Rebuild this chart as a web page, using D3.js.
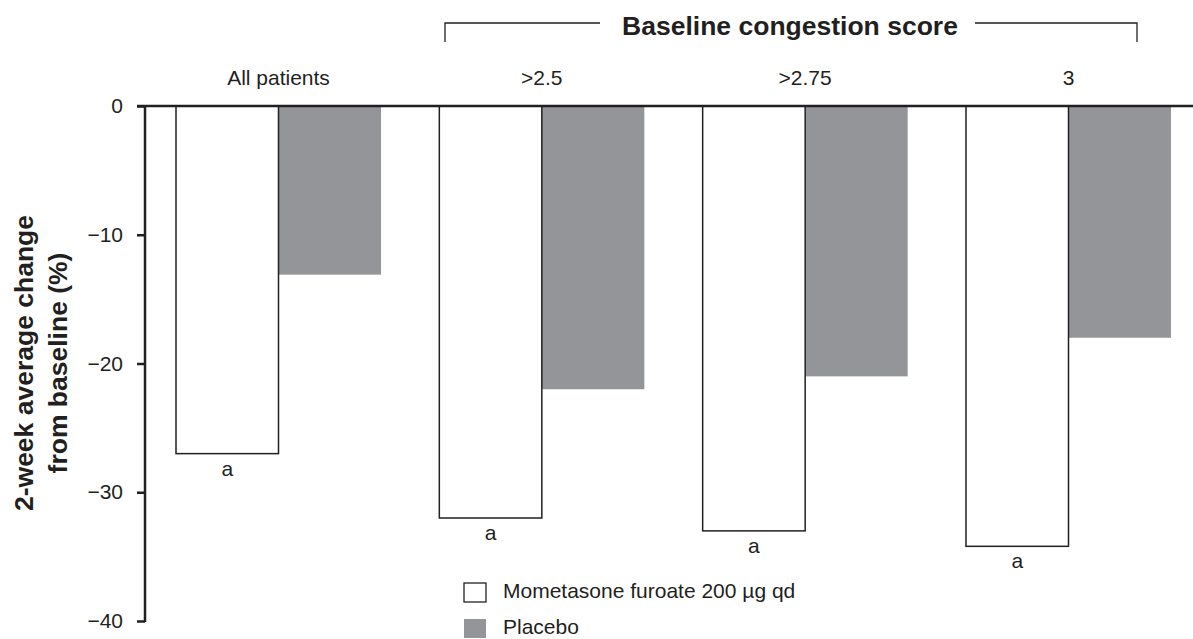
<!DOCTYPE html>
<html lang="en">
<head>
  <meta charset="UTF-8">
  <title>Congestion score change</title>
  <script src="https://d3js.org/d3.v7.min.js"></script>
  <style>
    body { margin: 0; padding: 0; background: #fff; }
    svg text { font-family: "Liberation Sans", Arial, sans-serif; fill: #231f20; }
  </style>
</head>
<body>
  <div id="chart"></div>
  <script>
  const groups = ["All patients", ">2.5", ">2.75", "3"];
  const series = ["Mometasone furoate 200 \u00b5g qd", "Placebo"];
  const mometasone = [-27, -32, -33, -34.2];
  const placebo = [-13.1, -22, -21, -18];
  const yTicks = [0, -10, -20, -30, -40];

  const width = 1193, height = 639;
  const svg = d3.select("#chart").append("svg")
    .attr("width", width).attr("height", height);

  const x = d3.scaleBand().domain(groups).range([176, 1171]).paddingInner(0.2215).paddingOuter(0);
  const xs = d3.scaleBand().domain(series).range([0, x.bandwidth()]);
  const y = d3.scaleLinear().domain([0, -40]).range([106, 621]);

  const colors = ["#ffffff", "#939598"];
  const strokes = ["#231f20", "none"];

  const rows = groups.map((g, i) => ({ group: g, vals: [mometasone[i], placebo[i]] }));

  const g = svg.selectAll(".grp").data(rows).enter().append("g")
    .attr("transform", d => `translate(${x(d.group)},0)`);

  // placebo first so the white bar outline sits on top
  g.selectAll("rect").data(d => d.vals.map((v, j) => ({ v, j })).reverse()).enter().append("rect")
    .attr("x", d => xs(series[d.j]))
    .attr("y", y(0))
    .attr("width", xs.bandwidth())
    .attr("height", d => y(d.v) - y(0))
    .attr("fill", d => colors[d.j])
    .attr("stroke", d => strokes[d.j])
    .attr("stroke-width", 1.5);

  // significance markers
  g.append("text")
    .attr("x", xs.bandwidth() / 2)
    .attr("y", d => y(d.vals[0]) + 22)
    .attr("text-anchor", "middle")
    .style("font-size", "21px")
    .text("a");

  // category labels
  svg.selectAll(".cat").data(groups).enter().append("text")
    .attr("x", d => x(d) + x.bandwidth() / 2)
    .attr("y", 85)
    .attr("text-anchor", "middle")
    .style("font-size", "21px")
    .text(d => d);

  // y axis
  const yAxis = d3.axisLeft(y).tickValues(yTicks).tickSize(8)
    .tickFormat(d => d === 0 ? "0" : "\u2212" + Math.abs(d));
  const ax = svg.append("g").attr("transform", "translate(145,0)").call(yAxis);
  ax.select(".domain").remove();
  ax.selectAll(".tick line").attr("stroke", "#231f20").attr("stroke-width", 2.5);
  ax.selectAll(".tick text").attr("x", -22).style("font-size", "21px")
    .style("font-family", "'Liberation Sans', Arial, sans-serif").attr("fill", "#231f20");
  svg.append("line").attr("x1", 145).attr("x2", 145).attr("y1", y(0) - 1).attr("y2", y(-40) + 1)
    .attr("stroke", "#231f20").attr("stroke-width", 2.5);
  svg.append("line").attr("x1", 137).attr("x2", width).attr("y1", y(0)).attr("y2", y(0))
    .attr("stroke", "#231f20").attr("stroke-width", 2.5);

  // y title
  const yt = svg.append("text")
    .attr("transform", `translate(33,363) rotate(-90)`)
    .attr("text-anchor", "middle")
    .style("font-size", "26.5px").style("font-weight", "bold");
  yt.append("tspan").attr("x", 0).attr("dy", 0).text("2-week average change");
  yt.append("tspan").attr("x", 0).attr("dy", 34).text("from baseline (%)");

  // bracket
  const bx1 = 445, bx2 = 1137, by = 23, byb = 42;
  svg.append("path")
    .attr("d", `M${bx1},${byb}V${by}H600M975,${by}H${bx2}V${byb}`)
    .attr("fill", "none").attr("stroke", "#231f20").attr("stroke-width", 1.3);
  svg.append("text").attr("x", 790).attr("y", 35).attr("text-anchor", "middle")
    .style("font-size", "26.5px").style("font-weight", "bold")
    .text("Baseline congestion score");

  // legend
  const leg = svg.selectAll(".leg").data(series).enter().append("g")
    .attr("transform", (d, i) => `translate(464,${583 + i * 36})`);
  leg.append("rect").attr("width", 22).attr("height", 19)
    .attr("fill", (d, i) => colors[i])
    .attr("stroke", (d, i) => i === 0 ? "#231f20" : "none").attr("stroke-width", 1.3);
  leg.append("text").attr("x", 39).attr("y", 15).style("font-size", "21px").text(d => d);
  </script>
</body>
</html>
